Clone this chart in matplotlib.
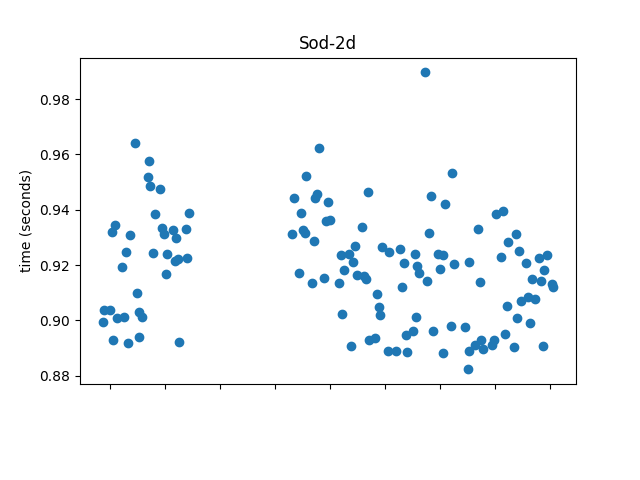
import numpy as np
import matplotlib
matplotlib.use('Agg')
import matplotlib.pyplot as plt

#%% run times
x_left = [0.462, 0.709, 0.691, 0.740, 0.909, 0.818, 1.436, 0.091, 0.036, 0.945,
          0.989, 1.145, 1.200, 1.382, 0.364, 0.298, 0.782, 1.036, 1.189, 1.244,
          1.400, 0.218, 1.018, 0.491, -0.109, 0.007, 0.540, 0.582, -0.127, 0.127,
          0.255, 0.055, 0.335, 0.527, 1.267]
t_left = [0.9642, 0.9577, 0.9517, 0.9486, 0.9476, 0.9383, 0.9387, 0.9345, 0.9318, 0.9334,
          0.9311, 0.9327, 0.9297, 0.9330, 0.9308, 0.9246, 0.9242, 0.9239, 0.9214, 0.9221,
          0.9224, 0.9192, 0.9167, 0.9099, 0.9036, 0.9036, 0.9029, 0.9013, 0.8993, 0.9007,
          0.9011, 0.8929, 0.8917, 0.8939, 0.8921]

x_right = [3.309, 3.345, 3.436, 3.467, 3.504, 3.553, 3.564, 3.673, 3.709, 3.727,
           3.764, 3.800, 3.891, 3.922, 3.964, 4.000, 4.164, 4.195, 4.218, 4.255,
           4.349, 4.385, 4.418, 4.455, 4.491, 4.582, 4.613, 4.662, 4.691, 4.709,
           4.818, 4.855, 4.891, 4.909, 4.940, 5.055, 5.073, 5.189, 5.273, 5.309,
           5.345, 5.376, 5.400, 5.509, 5.545, 5.558, 5.582, 5.613, 5.722, 5.764,
           5.800, 5.836, 5.873, 5.964, 6.000, 6.044, 6.055, 6.085, 6.200, 6.213,
           6.255, 6.458, 6.498, 6.527, 6.531, 6.640, 6.691, 6.727, 6.745, 6.782,
           6.940, 6.985, 7.013, 7.109, 7.145, 7.182, 7.218, 7.236, 7.345, 7.382,
           7.400, 7.435, 7.471, 7.564, 7.600, 7.636, 7.673, 7.713, 7.795, 7.836,
           7.873, 7.891, 7.931, 8.035, 8.055]
t_right = [0.9311, 0.9441, 0.9170, 0.9388, 0.9327, 0.9317, 0.9521, 0.9134, 0.9286, 0.9441,
           0.9457, 0.9622, 0.9152, 0.9359, 0.9428, 0.9363, 0.9134, 0.9235, 0.9023, 0.9181,
           0.9240, 0.8907, 0.9210, 0.9268, 0.9163, 0.9336, 0.9161, 0.9151, 0.9463, 0.8928,
           0.8935, 0.9095, 0.9048, 0.9018, 0.9265, 0.8889, 0.9246, 0.8889, 0.9258, 0.9120,
           0.9206, 0.8945, 0.8886, 0.8961, 0.9239, 0.9011, 0.9197, 0.9172, 0.9897, 0.9142,
           0.9315, 0.9450, 0.8961, 0.9240, 0.9185, 0.9235, 0.8881, 0.9420, 0.8980, 0.9532,
           0.9204, 0.8976, 0.8823, 0.9211, 0.8890, 0.8909, 0.9329, 0.9138, 0.8929, 0.8895,
           0.8911, 0.8928, 0.9383, 0.9228, 0.9394, 0.8950, 0.9051, 0.9282, 0.8903, 0.9312,
           0.9007, 0.9250, 0.9069, 0.9206, 0.9084, 0.8989, 0.9148, 0.9076, 0.9224, 0.9141,
           0.8907, 0.9181, 0.9236, 0.9130, 0.9122]

tick_pos = list(range(9))

#%%
x = np.array(x_left + x_right)
t = np.array(t_left + t_right)

fig, ax = plt.subplots(figsize=(6.4, 4.8), dpi=100)
ax.scatter(x, t)
ax.set_xticks(tick_pos)
ax.set_xticklabels([])
ax.set_title('Sod-2d')
ax.set_ylabel('time (seconds)')
plt.subplots_adjust(bottom=0.2)
plt.savefig('out.png')
plt.close()
